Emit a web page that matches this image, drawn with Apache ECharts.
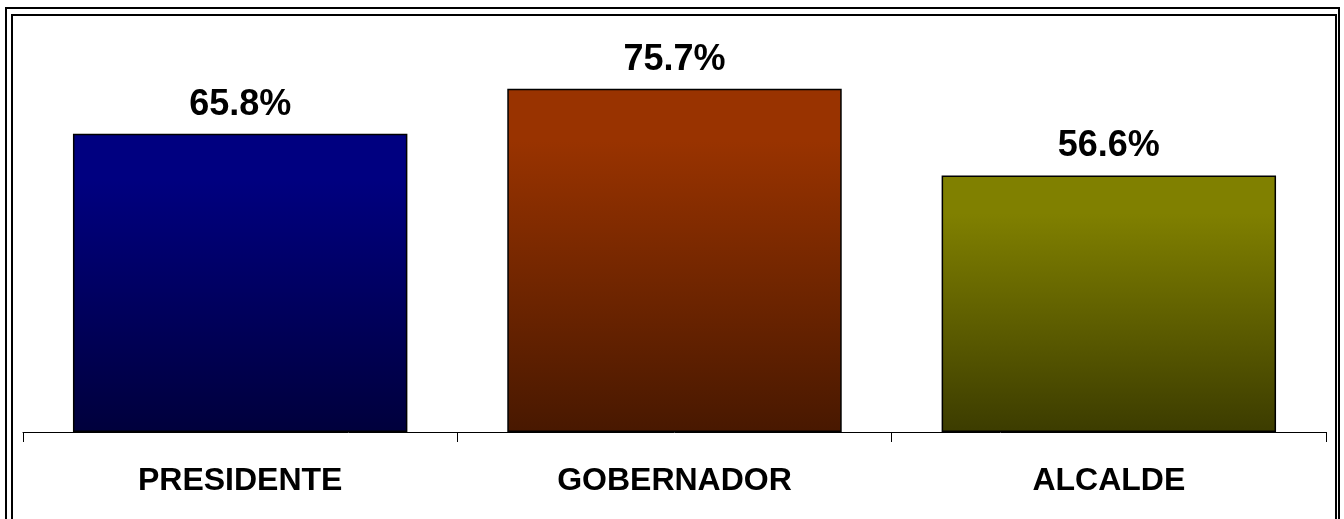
<!DOCTYPE html>
<html lang="es">
<head>
    <meta charset="UTF-8">
    <title>Participación</title>
    <script src="https://cdn.jsdelivr.net/npm/echarts@6/dist/echarts.min.js"></script>
    <style>
        html, body { margin: 0; padding: 0; background: #fff; }
    </style>
</head>
<body>
    <div id="main" style="width: 1344px;height:519px;"></div>
    <script type="text/javascript">
        // datos
        var categories = ['PRESIDENTE', 'GOBERNADOR', 'ALCALDE'];
        var values = [65.8, 75.7, 56.6];
        var topColors = ['#000080', '#993300', '#808000'];
        var bottomColors = ['#00003c', '#481800', '#3c3c00'];

        var myChart = echarts.init(document.getElementById('main'));

        var barData = values.map(function (v, i) {
            return {
                value: v,
                itemStyle: {
                    color: new echarts.graphic.LinearGradient(0, 0, 0, 1, [
                        { offset: 0, color: topColors[i] },
                        { offset: 0.15, color: topColors[i] },
                        { offset: 1, color: bottomColors[i] }
                    ])
                }
            };
        });

        var option = {
            animation: false,
            backgroundColor: '#fff',
            grid: {
                left: 23,
                right: 18,
                top: 24,
                bottom: 87
            },
            xAxis: {
                type: 'category',
                data: categories,
                axisLine: { show: true, lineStyle: { color: '#000', width: 1 } },
                axisTick: { show: true, alignWithLabel: false, length: 10, lineStyle: { color: '#000', width: 1 } },
                axisLabel: {
                    margin: 33,
                    color: '#000',
                    fontFamily: 'Liberation Sans, Arial, sans-serif',
                    fontWeight: 'bold',
                    fontSize: 32,
                    lineHeight: 32
                }
            },
            yAxis: {
                type: 'value',
                min: 0,
                max: 90,
                show: false,
                splitLine: { show: false }
            },
            // doble marco alrededor
            graphic: [
                {
                    type: 'rect',
                    shape: { x: 6, y: 8, width: 1333, height: 600 },
                    style: { fill: 'none', stroke: '#000', lineWidth: 2 }
                },
                {
                    type: 'rect',
                    shape: { x: 12, y: 15, width: 1324, height: 600 },
                    style: { fill: 'none', stroke: '#000', lineWidth: 2 }
                }
            ],
            series: [
                {
                    type: 'bar',
                    barWidth: '77%',
                    data: barData,
                    itemStyle: { borderColor: '#000', borderWidth: 1.5 },
                    label: {
                        show: true,
                        position: 'top',
                        distance: 11,
                        color: '#000',
                        fontFamily: 'Liberation Sans, Arial, sans-serif',
                        fontWeight: 'bold',
                        fontSize: 36,
                        lineHeight: 36,
                        formatter: function (p) { return p.value.toFixed(1) + '%'; }
                    }
                }
            ]
        };
        myChart.setOption(option);
    </script>
</body>
</html>
